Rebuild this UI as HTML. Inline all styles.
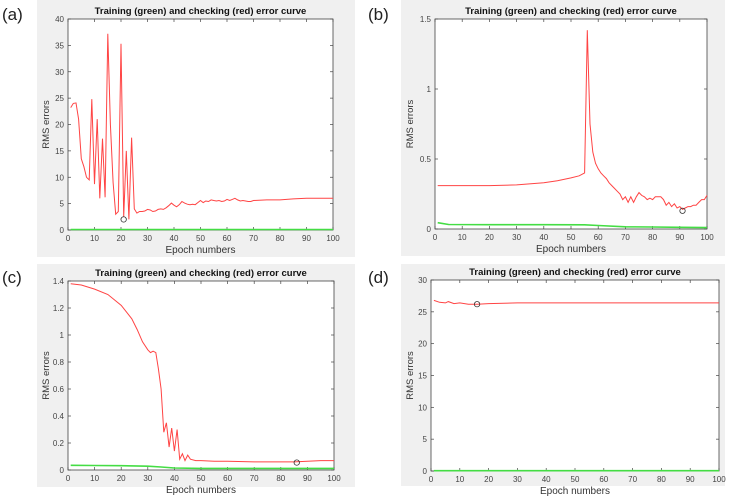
<!DOCTYPE html>
<html><head><meta charset="utf-8"><style>
body{margin:0;background:#fff;width:731px;height:496px;overflow:hidden;font-family:"Liberation Sans",sans-serif}
svg{display:block}
</style></head><body>
<svg id="fig" width="731" height="496" xmlns="http://www.w3.org/2000/svg"></svg>
<script>
// ---------- Data ----------
const epochsA = [1,2,3,4,5,6,7,8,9,10,11,12,13,14,15,16,17,18,19,20,21,22,23,24,25,26,27,28,29,30,31,32,33,34,35,36,37,38,39,40,41,42,43,44,45,46,47,48,49,50,51,52,53,54,55,56,57,58,59,60,61,62,63,64,65,66,67,68,69,70,75,80,85,90,95,100];
const checkA = [23.2,24,24.1,21,13.5,12,10,9.5,24.8,8.7,21,6,17.3,6.2,37.2,20,9,3,3.5,35.3,2.5,15,2,17.5,4,3.2,3.5,3.5,3.6,3.9,3.8,3.5,3.6,3.9,4,3.9,4.2,4.6,5.1,4.7,4.4,4.8,5.4,5.1,4.9,4.8,4.9,4.8,5.2,5.6,5.2,5.5,5.4,5.7,5.6,5.5,5.6,5.4,5.5,5.8,5.6,5.8,6,5.7,5.5,5.6,5.5,5.4,5.4,5.6,5.7,5.7,5.9,6.0,6.0,6.0];
const trainA = [0.1,0.1,0.1,0.1,0.1,0.1,0.1,0.1,0.1,0.1,0.1,0.1,0.1,0.1,0.1,0.1,0.1,0.1,0.1,0.1,0.1,0.1,0.1,0.1,0.1,0.1,0.1,0.1,0.1,0.1,0.1,0.1,0.1,0.1,0.1,0.1,0.1,0.1,0.1,0.1,0.1,0.1,0.1,0.1,0.1,0.1,0.1,0.1,0.1,0.1,0.1,0.1,0.1,0.1,0.1,0.1,0.1,0.1,0.1,0.1,0.1,0.1,0.1,0.1,0.1,0.1,0.1,0.1,0.1,0.1,0.1,0.1,0.1,0.1,0.1,0.1];
const minA = [21, 2];

const epochsB = [1,10,20,30,40,45,50,53,55,56,57,58,59,60,61,62,63,64,65,66,67,68,69,70,71,72,73,74,75,76,77,78,79,80,81,82,83,84,85,86,87,88,89,90,91,92,93,94,95,96,97,98,99,100];
const checkB = [0.31,0.31,0.31,0.315,0.33,0.345,0.365,0.38,0.40,1.42,0.75,0.55,0.47,0.43,0.40,0.38,0.36,0.33,0.31,0.29,0.27,0.25,0.21,0.23,0.19,0.23,0.19,0.23,0.26,0.24,0.23,0.21,0.22,0.21,0.23,0.23,0.23,0.21,0.17,0.19,0.16,0.18,0.15,0.16,0.14,0.15,0.16,0.16,0.17,0.17,0.19,0.21,0.21,0.24];
const trainEpochsB = [1,5,20,40,55,60,70,80,90,100];
const trainB = [0.045,0.032,0.031,0.031,0.03,0.025,0.016,0.014,0.012,0.01];
const minB = [91, 0.13];

const epochsC = [1,5,10,15,20,24,26,28,30,31,32,33,34,35,36,37,38,39,40,41,42,43,44,45,46,48,50,55,60,70,80,85,90,95,100];
const checkC = [1.38,1.37,1.34,1.30,1.22,1.12,1.04,0.95,0.89,0.87,0.88,0.87,0.75,0.6,0.28,0.35,0.17,0.31,0.14,0.30,0.08,0.12,0.07,0.11,0.08,0.07,0.07,0.065,0.065,0.06,0.06,0.06,0.065,0.07,0.07];
const trainEpochsC = [1,10,20,30,35,40,50,100];
const trainC = [0.035,0.033,0.032,0.028,0.022,0.015,0.012,0.012];
const minC = [86, 0.055];

const epochsD = [1,3,5,6,8,10,13,16,20,30,50,70,100];
const checkD = [26.8,26.5,26.4,26.6,26.3,26.4,26.2,26.2,26.3,26.4,26.4,26.4,26.4];
const trainEpochsD = [1,100];
const trainD = [0.05,0.05];
const minD = [16, 26.2];

const xTicks = [0,10,20,30,40,50,60,70,80,90,100];
const yTicksA = [0,5,10,15,20,25,30,35,40];
const yTicksB = [0,0.5,1,1.5];
const yTicksC = [0,0.2,0.4,0.6,0.8,1,1.2,1.4];
const yTicksD = [0,5,10,15,20,25,30];

// ---------- Drawing ----------
const NS = "http://www.w3.org/2000/svg";
const svg = document.getElementById('fig');
function mk(tag, attrs, parent){const e=document.createElementNS(NS,tag);for(const k in attrs)e.setAttribute(k,attrs[k]);(parent||svg).appendChild(e);return e;}

function panel(cfg){
  const g = mk('g',{});
  
  
  const bg = mk('rect',{x:cfg.bx,y:cfg.by,width:cfg.bw,height:cfg.bh,fill:'#f0f0f0'},g);
  
  
  const lab = mk('text',{x:cfg.lx,y:cfg.ly,'font-size':17,fill:'#222','font-family':'Liberation Sans, sans-serif'},g);
  lab.textContent='('+cfg.id+')';
  
  
  const {x0,x1,y0,y1,ymax} = cfg;
  const sx = v => x0 + (v/100)*(x1-x0);
  const sy = v => y0 - (v/ymax)*(y0-y1);
  const plot = mk('rect',{x:x0,y:y1,width:x1-x0,height:y0-y1,fill:'#fff',stroke:'#444','stroke-width':0.8},g);
  
  
  const t = mk('text',{x:(x0+x1)/2,y:y1-5,'font-size':9.5,'font-weight':'bold','text-anchor':'middle',fill:'#111'},g);
  t.textContent='Training (green) and checking (red) error curve';
  
  
  xTicks.forEach(v=>{
    const x=sx(v);
    mk('line',{x1:x,x2:x,y1:y0,y2:y0-3,stroke:'#444','stroke-width':0.7},g);
    mk('line',{x1:x,x2:x,y1:y1,y2:y1+3,stroke:'#444','stroke-width':0.7},g);
    const tx=mk('text',{x:x,y:y0+11,'font-size':8,'text-anchor':'middle',fill:'#444'},g);
    tx.textContent=v;
    
    
  });
  cfg.yt.forEach(v=>{
    const y=sy(v);
    mk('line',{x1:x0,x2:x0+3,y1:y,y2:y,stroke:'#444','stroke-width':0.7},g);
    mk('line',{x1:x1,x2:x1-3,y1:y,y2:y,stroke:'#444','stroke-width':0.7},g);
    const ty=mk('text',{x:x0-4,y:y+3,'font-size':8,'text-anchor':'end',fill:'#444'},g);
    ty.textContent=v;
    
    
  });
  const xl=mk('text',{x:(x0+x1)/2,y:y0+23,'font-size':10,'text-anchor':'middle',fill:'#333'},g);
  xl.textContent='Epoch numbers';
  
  
  const yx=cfg.bx+12, yy=(y0+y1)/2;
  const yl=mk('text',{x:yx,y:yy,'font-size':9.5,'text-anchor':'middle',fill:'#333',transform:`rotate(-90 ${yx} ${yy})`},g);
  yl.textContent='RMS errors';
  
  
  const pts=(xs,ys)=>xs.map((e,i)=>sx(e).toFixed(1)+','+sy(ys[i]).toFixed(1)).join(' ');
  const gl=mk('polyline',{points:pts(cfg.te,cfg.tr),fill:'none',stroke:'#44dd44','stroke-width':1.6},g);
  
  
  const rl=mk('polyline',{points:pts(cfg.ce,cfg.ch),fill:'none',stroke:'#ff4444','stroke-width':1},g);
  
  
  const c=mk('circle',{cx:sx(cfg.mn[0]),cy:sy(cfg.mn[1]),r:2.7,fill:'none',stroke:'#333','stroke-width':0.8},g);
  
  
}

panel({id:'a',bx:37,by:0,bw:318,bh:257,lx:2,ly:20,x0:68,x1:333,y0:230,y1:19,ymax:40,yt:yTicksA,ce:epochsA,ch:checkA,te:epochsA,tr:trainA,mn:minA});
panel({id:'b',bx:401,by:0,bw:324,bh:256,lx:368,ly:20,x0:435,x1:707,y0:229,y1:19,ymax:1.5,yt:yTicksB,ce:epochsB,ch:checkB,te:trainEpochsB,tr:trainB,mn:minB});
panel({id:'c',bx:37,by:264,bw:318,bh:223,lx:2,ly:283,x0:68,x1:334,y0:470,y1:281,ymax:1.4,yt:yTicksC,ce:epochsC,ch:checkC,te:trainEpochsC,tr:trainC,mn:minC});
panel({id:'d',bx:401,by:264,bw:324,bh:222,lx:368,ly:283,x0:431,x1:719,y0:471,y1:280,ymax:30,yt:yTicksD,ce:epochsD,ch:checkD,te:trainEpochsD,tr:trainD,mn:minD});
</script>
</body></html>
